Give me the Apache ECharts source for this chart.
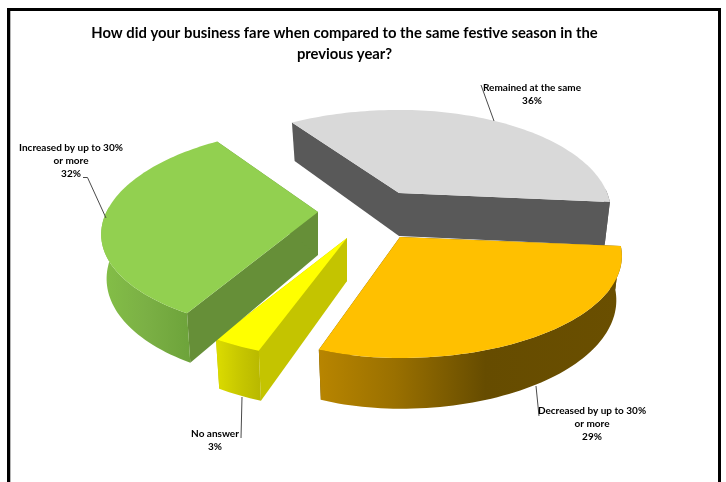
<!DOCTYPE html>
<html>
<head>
<meta charset="utf-8">
<style>html,body{margin:0;padding:0;background:#fff}#chart{width:726px;height:482px}</style>
<script src="https://cdn.jsdelivr.net/npm/echarts@6/dist/echarts.min.js"></script>
</head>
<body>
<div id="chart"></div>
<script>
// Survey answers, in clockwise drawing order
const answers = ['Remained at the same', 'Decreased by up to 30%\nor more', 'No answer', 'Increased by up to 30%\nor more'];
const shares = [36, 29, 3, 32];
const chartTitle = 'How did your business fare when compared to the same festive season in the\nprevious year?';

// Projection of the tilted disc
const START_ANGLE = 235.5;
const RADIUS = 218;
const TILT = 0.452;
const PERSPECTIVE = 0.186;
const THICKNESS = 43;
const WALL_NARROWING = 0.975;

function rampX(stops) {
  return {type: 'linear', x: 0, y: 0, x2: 1, y2: 0,
    colorStops: stops.map(s => ({offset: s[0], color: s[1]}))};
}

// Exploded slice hubs, horizontal squeeze (left-back, left-front, right) and colours
const sliceStyles = [
  {hub: [399, 193], squeeze: [1, 1, 0.955], top: '#d9d9d9', cut: '#595959', wall: '#595959'},
  {hub: [400, 237], squeeze: [0.92, 0.92, 1], top: '#ffc000', cut: '#664c00',
    wall: rampX([[0, '#b88500'], [0.25, '#9a7000'], [0.55, '#664c00'], [1, '#6a4f00']])},
  {hub: [347, 238], squeeze: [1, 1, 1], top: '#ffff00', cut: '#c4c400',
    wall: rampX([[0, '#dcdc00'], [0.5, '#c8c800'], [1, '#b8b800']])},
  {hub: [318, 212], squeeze: [0.937, 1.004, 1], top: '#92d050', cut: '#668f38',
    wall: rampX([[0, '#84bf47'], [0.5, '#7bb045'], [1, '#6da33a']])}
];

// Label placement and leader lines
const labelPlaces = [
  {at: [532, 94], line: [[481, 85], [494, 121]]},
  {at: [592, 424], line: [[536, 386], [539, 416]]},
  {at: [215, 440], line: [[242, 397], [241, 438]]},
  {at: [71, 161], line: [[83, 177.5], [87.5, 177.5], [106, 218]]}
];

const total = shares.reduce((a, b) => a + b, 0);

function project(look, deg) {
  const rad = deg * Math.PI / 180;
  const X = Math.cos(rad), Y = Math.sin(rad);
  const s = 1 / (1 - PERSPECTIVE * Y);
  const q = look.squeeze;
  const side = X < 0 ? q[0] + (q[1] - q[0]) * (Y + 1) / 2 : q[2];
  return {dx: X * s * RADIUS * side, dy: Y * s * RADIUS * TILT, s: s, hub: look.hub};
}
function topPoint(p) { return [p.hub[0] + p.dx, p.hub[1] + p.dy]; }
function bottomPoint(p) {
  return [p.hub[0] + p.dx * WALL_NARROWING,
          p.hub[1] + p.dy + THICKNESS * Math.pow(p.s, 0.8)];
}
function arc(look, from, to) {
  const pts = [];
  const n = Math.max(2, Math.ceil((to - from) / 1.5));
  for (let i = 0; i <= n; i++) pts.push(project(look, from + (to - from) * i / n));
  return pts;
}
function poly(points, fill) {
  return {type: 'polygon', shape: {points: points}, style: {fill: fill, stroke: null}};
}

function renderSlice(params, api) {
  const i = params.dataIndex;
  const look = sliceStyles[i];
  let before = 0;
  for (let k = 0; k < i; k++) before += shares[k];
  const from = START_ANGLE + before / total * 360;
  const to = from + api.value(0) / total * 360;
  const centre = {dx: 0, dy: 0, s: 1, hub: look.hub};
  const edgeA = project(look, from), edgeB = project(look, to);
  const children = [];

  [edgeA, edgeB].forEach(edge => {
    children.push(poly([topPoint(centre), topPoint(edge), bottomPoint(edge), bottomPoint(centre)], look.cut));
  });

  // Outer rim: only the part turned towards the viewer
  const rim = arc(look, from, to).filter(p => p.dy > -6);
  if (rim.length > 1) {
    children.push(poly(rim.map(topPoint).concat(rim.slice().reverse().map(bottomPoint)), look.wall));
  }

  children.push(poly([topPoint(centre)].concat(arc(look, from, to).map(topPoint)), look.top));
  return {type: 'group', children: children};
}

function renderLabel(params, api) {
  const i = params.dataIndex;
  const place = labelPlaces[i];
  return {type: 'group', children: [
    {type: 'polyline', shape: {points: place.line},
      style: {stroke: '#4a4a4a', lineWidth: 1, fill: null}},
    {type: 'text', x: place.at[0], y: place.at[1],
      style: {
        text: answers[i] + '\n' + api.value(0) + '%',
        font: 'bold 10px Lato, "Open Sans", sans-serif',
        lineHeight: 13, fill: '#000', align: 'center', verticalAlign: 'middle'
      }}
  ]};
}

const chart = echarts.init(document.getElementById('chart'), null, {renderer: 'canvas'});
chart.setOption({
  animation: false,
  backgroundColor: '#ffffff',
  title: {
    text: chartTitle, left: 339.5, top: 17.5, textAlign: 'center',
    textStyle: {fontFamily: 'Lato, sans-serif', fontWeight: 'bold', fontSize: 14.8, lineHeight: 21, color: '#000'}
  },
  graphic: [
    {type: 'rect', shape: {x: 7, y: 8, width: 714, height: 3}, style: {fill: '#000'}},
    {type: 'rect', shape: {x: 7, y: 8, width: 3, height: 474}, style: {fill: '#000'}},
    {type: 'rect', shape: {x: 10, y: 11, width: 1, height: 471}, style: {fill: '#b5b5b5'}},
    {type: 'rect', shape: {x: 718, y: 8, width: 3, height: 474}, style: {fill: '#000'}}
  ],
  series: [
    {type: 'custom', coordinateSystem: 'none', data: shares, renderItem: renderSlice, silent: true, z: 2},
    {type: 'custom', coordinateSystem: 'none', data: shares, renderItem: renderLabel, silent: true, z: 3}
  ]
});
</script>
</body>
</html>
